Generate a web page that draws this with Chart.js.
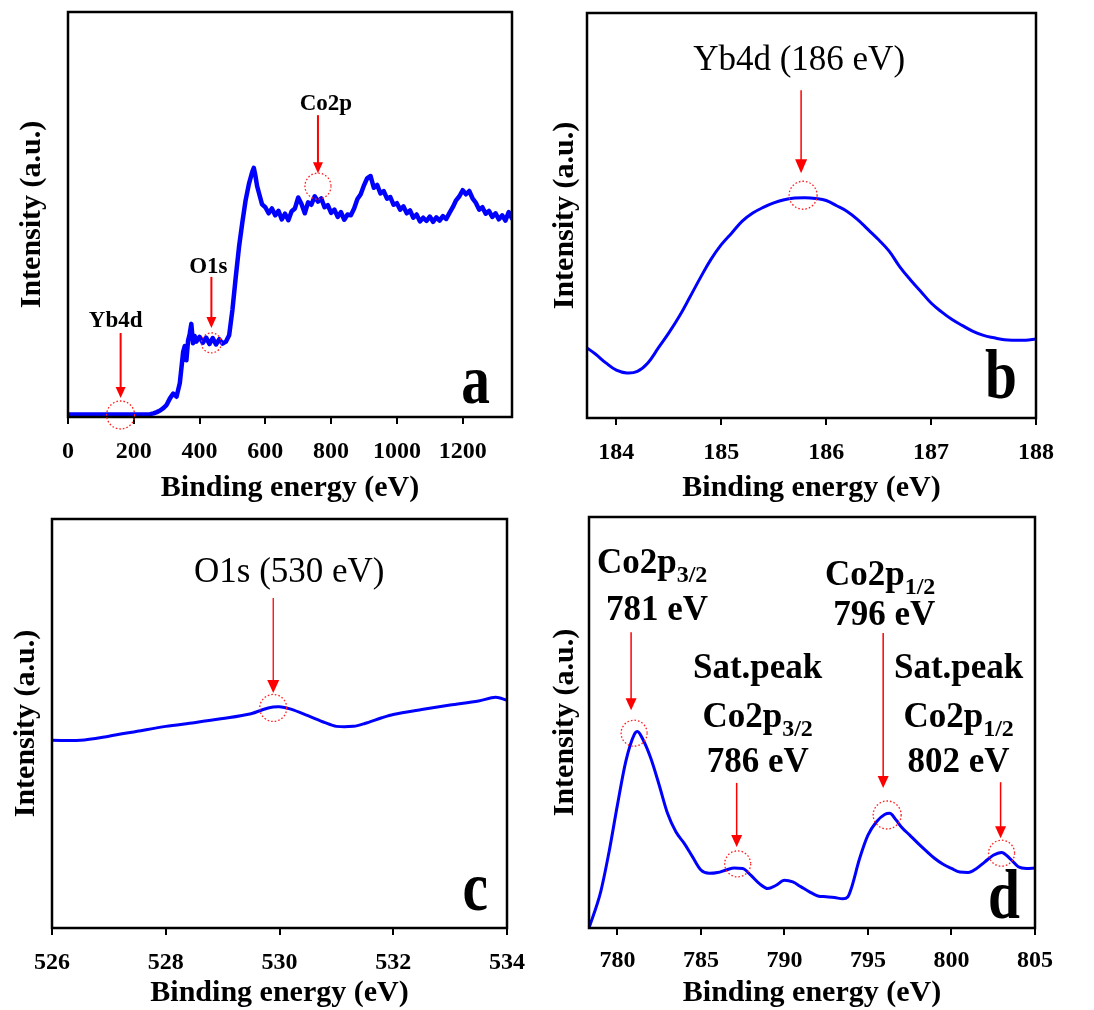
<!DOCTYPE html>
<html><head><meta charset="utf-8">
<script src="https://cdn.jsdelivr.net/npm/chart.js@4.4.1/dist/chart.umd.min.js"></script>
<style>
html,body{margin:0;padding:0;background:#fff;}
#wrap{position:relative;width:1094px;height:1010px;overflow:hidden;}
canvas{position:absolute;}
</style></head><body>
<div id="wrap">
<canvas id="ca" width="547" height="505" style="left:0;top:0"></canvas>
<canvas id="cb" width="547" height="505" style="left:547px;top:0"></canvas>
<canvas id="cc" width="547" height="505" style="left:0;top:505px"></canvas>
<canvas id="cd" width="547" height="505" style="left:547px;top:505px"></canvas>
</div>
<script>
// ---------------- DATA ----------------
const surveyEnergy = [0,50,100,150,200,250,260,270,280,290,300,310,320,330,340,350,355,360,365,370,375,380,385,390,400,410,420,430,440,450,460,470,480,490,500,510,520,530,540,550,560,565,570,575,580,590,600,610,620,630,640,650,660,670,680,690,700,710,720,730,740,750,760,770,780,790,800,810,820,830,840,850,860,870,880,890,900,910,920,930,940,950,960,970,980,990,1000,1010,1020,1030,1040,1050,1060,1070,1080,1090,1100,1110,1120,1130,1140,1150,1160,1170,1180,1190,1200,1210,1220,1230,1240,1250,1260,1270,1280,1290,1300,1310,1320,1330,1340,1350];
const surveyIntensity = [0.6,0.6,0.6,0.6,0.6,0.7,0.9,1.2,1.6,2.2,3.0,4.6,5.8,5.0,8.4,16.0,17.5,14.0,18.8,20.5,23.0,18.2,20.0,18.6,19.8,18.3,19.6,18.0,19.5,17.9,19.2,18.1,18.6,20.2,26.5,34.5,42.0,48.0,53.5,57.5,60.5,61.5,59.5,57.0,55.5,52.5,51.8,50.3,51.5,49.8,50.9,48.8,50.2,48.6,50.8,51.5,54.2,52.6,50.3,53.0,52.4,54.5,53.2,54.0,51.8,52.3,50.4,51.2,49.4,50.6,48.7,50.0,49.8,51.5,53.8,55.0,57.2,59.0,59.5,56.6,57.3,55.2,55.8,53.9,54.3,52.4,52.8,51.2,52.0,50.3,51.0,49.2,50.0,48.3,49.2,48.4,49.5,48.2,49.3,48.5,49.6,48.9,50.4,51.8,53.5,54.5,56.0,55.0,55.8,54.0,52.9,51.2,51.8,50.2,50.9,49.4,50.3,48.8,49.8,48.5,50.6,49.0];
const surveyTicks = [0,200,400,600,800,1000,1200];

const ybEnergy = [183.72,183.8,183.9,184.0,184.1,184.2,184.3,184.4,184.5,184.6,184.7,184.8,184.9,185.0,185.1,185.2,185.3,185.4,185.5,185.6,185.7,185.8,185.9,186.0,186.1,186.2,186.3,186.4,186.5,186.6,186.7,186.8,186.9,187.0,187.1,187.2,187.3,187.4,187.5,187.6,187.7,187.8,187.9,188.0];
const ybIntensity = [17.3,15.8,13.6,11.8,11.1,11.5,13.6,17.3,21.0,25.1,29.8,34.6,39.1,42.8,45.7,48.6,50.6,52.0,53.1,53.9,54.3,54.4,54.2,53.7,52.4,51.0,49.0,46.5,44.0,41.2,37.4,34.2,31.3,28.4,26.2,24.3,22.8,21.4,20.4,19.8,19.3,19.2,19.2,19.5];
const ybTicks = [184,185,186,187,188];

const oEnergy = [526.0,526.5,527.0,527.5,528.0,528.5,529.0,529.5,529.8,530.0,530.2,530.5,530.8,531.0,531.3,531.5,531.8,532.0,532.5,533.0,533.5,533.8,534.0];
const oIntensity = [45.9,45.9,46.9,48.1,49.3,50.2,51.2,52.4,53.8,54.1,53.5,51.9,50.2,49.3,49.3,50.0,51.4,52.2,53.4,54.5,55.5,56.4,55.7];
const oTicks = [526,528,530,532,534];

const coEnergy = [778.3,779,779.5,780,780.5,781,781.2,781.5,782,782.5,783,783.5,784,784.5,785,785.5,786,786.5,787,787.5,788,788.5,789,789.5,790,790.5,791,791.5,792,792.5,793,793.5,793.8,794,794.5,795,795.5,796,796.3,796.7,797,797.5,798,798.5,799,799.5,800,800.5,801,801.5,802,802.5,803,803.5,804,804.5,805];
const coIntensity = [0,8.8,18.5,29.9,40.5,47.0,47.8,46.1,41.3,34.8,27.9,23.4,20.6,17.3,14.1,13.3,13.5,14.1,14.6,14.5,12.8,10.8,9.6,10.4,11.6,11.2,10.0,8.8,7.8,7.6,7.4,7.1,7.6,9.6,16.9,22.6,25.8,27.6,27.9,26.2,24.6,22.6,20.6,18.7,16.9,15.5,14.5,13.6,13.5,14.5,16.1,17.7,18.4,16.9,14.9,14.5,14.6];
const coTicks = [780,785,790,795,800,805];

// ---------------- STYLE / LAYOUT ----------------
const SERIF = '"Liberation Serif","Times New Roman",serif';

function panelPlugin(cfg){
  return {
    id:'panel_'+cfg.letter,
    afterDraw(chart){
      const {ctx, chartArea:ca, scales} = chart;
      ctx.save();
      ctx.strokeStyle='#000'; ctx.lineWidth=2.5;
      ctx.strokeRect(ca.left, ca.top, ca.right-ca.left, ca.bottom-ca.top);
      ctx.fillStyle='#000';
      ctx.font='bold 70px '+SERIF;
      ctx.textAlign='right'; ctx.textBaseline='alphabetic';
      ctx.save();
      ctx.translate(ca.right+cfg.letterOff[0], ca.bottom+cfg.letterOff[1]);
      ctx.scale(0.82,1);
      ctx.fillText(cfg.letter,0,0);
      ctx.restore();
      for(const n of cfg.notes){
        const cx = scales.x.getPixelForValue(n.x);
        const cy = scales.y.getPixelForValue(n.y);
        ctx.save();
        ctx.strokeStyle='#ff2020'; ctx.lineWidth=1.3; ctx.setLineDash([1.6,2]);
        ctx.beginPath(); ctx.arc(cx, cy, n.r, 0, Math.PI*2); ctx.stroke();
        ctx.restore();
        const ax = cx + n.aDx;
        const top = cy + n.aTop, tip = cy + n.aTip;
        const A = cfg.arrow;
        ctx.strokeStyle='#ff0000'; ctx.fillStyle='#ff0000'; ctx.lineWidth=A.lw;
        ctx.beginPath(); ctx.moveTo(ax, top); ctx.lineTo(ax, tip-A.hl+1); ctx.stroke();
        ctx.beginPath(); ctx.moveTo(ax-A.hw, tip-A.hl); ctx.lineTo(ax+A.hw, tip-A.hl); ctx.lineTo(ax, tip); ctx.closePath(); ctx.fill();
        ctx.fillStyle='#000'; ctx.textAlign='left'; ctx.textBaseline='alphabetic';
        for(const ln of n.lines){
          const parts = ln.parts || [ln.t];
          let w=0;
          const meas = parts.map(p=>{
            const sub = typeof p!=='string';
            ctx.font = sub ? cfg.subFont : cfg.font;
            const txt = sub ? p.s : p;
            const mw = ctx.measureText(txt).width; w+=mw;
            return {txt, sub, mw};
          });
          let x = cx + ln.dx - w/2;
          const y = cy + ln.dy;
          for(const m of meas){
            ctx.font = m.sub ? cfg.subFont : cfg.font;
            ctx.fillText(m.txt, x, m.sub ? y + cfg.subDrop : y);
            x += m.mw;
          }
        }
      }
      ctx.restore();
    }
  };
}

function buildChart(id, energy, intensity, ticks, cfg){
  const data = energy.map((x,i)=>({x, y:intensity[i]}));
  return new Chart(document.getElementById(id), {
    type:'line',
    data:{datasets:[{data, borderColor:'#0000ff', borderWidth:cfg.lw, pointRadius:0,
      tension:cfg.tension, cubicInterpolationMode:cfg.cim||'default', fill:false,
      borderJoinStyle:'round', borderCapStyle:'round'}]},
    options:{
      responsive:false, animation:false, events:[],
      layout:{padding:{top:cfg.pad[0], right:cfg.pad[1], bottom:0, left:0}},
      plugins:{legend:{display:false}, tooltip:{enabled:false}},
      scales:{
        x:{type:'linear', min:cfg.xmin, max:cfg.xmax,
          afterBuildTicks:s=>{ s.ticks = ticks.map(v=>({value:v})); },
          afterFit:s=>{ s.height = cfg.xH; },
          ticks:{color:'#000', font:{family:SERIF,size:24,weight:'bold'}, padding:cfg.tickPad, maxRotation:0, autoSkip:false, callback:v=>String(v)},
          grid:{display:true, drawOnChartArea:false, drawTicks:true, tickLength:7, color:'#000', lineWidth:2},
          border:{display:false},
          title:{display:true, text:'Binding energy (eV)', color:'#000', font:{family:SERIF,size:30,weight:'bold'}, padding:{top:0,bottom:-1}}
        },
        y:{min:0, max:100,
          ticks:{display:false}, grid:{display:false}, border:{display:false},
          afterFit:s=>{ s.width = cfg.yW; },
          title:{display:true, text:'Intensity (a.u.)', color:'#000', font:{family:SERIF,size:30,weight:'bold'}, padding:{top:cfg.yTitlePad,bottom:0}}
        }
      }
    },
    plugins:[panelPlugin(cfg)]
  });
}

buildChart('ca', surveyEnergy, surveyIntensity, surveyTicks, {
  letter:'a', xmin:0, xmax:1350, pad:[12,35], yW:68, xH:88, yTitlePad:14, tickPad:13,
  lw:4.5, tension:0, letterOff:[-22,-14],
  font:'bold 23px '+SERIF, subFont:'bold 16px '+SERIF, subDrop:6,
  arrow:{lw:2, hw:5, hl:11},
  notes:[
    {x:160, y:0.5, r:14, aDx:0, aTop:-82, aTip:-17, lines:[{t:'Yb4d', dx:-5, dy:-88}]},
    {x:436, y:18.3, r:10, aDx:0, aTop:-66, aTip:-15, lines:[{t:'O1s', dx:-3, dy:-70}]},
    {x:760, y:57, r:13, aDx:0, aTop:-71, aTip:-13, lines:[{t:'Co2p', dx:8, dy:-76}]}
  ]
});

buildChart('cb', ybEnergy, ybIntensity, ybTicks, {
  letter:'b', xmin:183.72, xmax:188, pad:[13,58], yW:40, xH:87, yTitlePad:0, tickPad:13,
  lw:3, tension:0.4, letterOff:[-19,-20],
  font:'normal 35px '+SERIF, subFont:'normal 24px '+SERIF, subDrop:8,
  arrow:{lw:1.5, hw:6, hl:14},
  notes:[
    {x:185.78, y:55, r:14, aDx:-2, aTop:-105, aTip:-22, lines:[{t:'Yb4d (186 eV)', dx:-4, dy:-125}]}
  ]
});

buildChart('cc', oEnergy, oIntensity, oTicks, {
  letter:'c', xmin:526, xmax:534, pad:[14,40], yW:52, xH:82, yTitlePad:8, tickPad:13,
  lw:3, tension:0.3, letterOff:[-19,-18],
  font:'normal 35px '+SERIF, subFont:'normal 24px '+SERIF, subDrop:8,
  arrow:{lw:1.3, hw:6, hl:13},
  notes:[
    {x:529.89, y:53.8, r:13.5, aDx:0, aTop:-110, aTip:-15, lines:[{t:'O1s (530 eV)', dx:16, dy:-126}]}
  ]
});

buildChart('cd', coEnergy, coIntensity, coTicks, {
  letter:'d', xmin:778.3, xmax:805, pad:[12,59], yW:42, xH:82, yTitlePad:0, tickPad:11,
  lw:3, tension:0.4, cim:'monotone', letterOff:[-15,-10],
  font:'bold 35px '+SERIF, subFont:'bold 24px '+SERIF, subDrop:9,
  arrow:{lw:1.5, hw:5.5, hl:12},
  notes:[
    {x:781.0, y:47.4, r:13, aDx:-3, aTop:-101, aTip:-23, lines:[
      {parts:['Co2p',{s:'3/2'}], dx:18, dy:-160},
      {t:'781 eV', dx:23, dy:-113}]},
    {x:787.2, y:15.6, r:13, aDx:-1, aTop:-81, aTip:-17, lines:[
      {t:'Sat.peak', dx:20, dy:-186},
      {parts:['Co2p',{s:'3/2'}], dx:20, dy:-137},
      {t:'786 eV', dx:20, dy:-92}]},
    {x:796.15, y:27.5, r:14, aDx:-4, aTop:-182, aTip:-27, lines:[
      {parts:['Co2p',{s:'1/2'}], dx:-7, dy:-230},
      {t:'796 eV', dx:-3, dy:-190}]},
    {x:803.0, y:18.2, r:13, aDx:-1, aTop:-71, aTip:-15, lines:[
      {t:'Sat.peak', dx:-43, dy:-175},
      {parts:['Co2p',{s:'1/2'}], dx:-43, dy:-126},
      {t:'802 eV', dx:-43, dy:-81}]}
  ]
});
</script>
</body></html>
